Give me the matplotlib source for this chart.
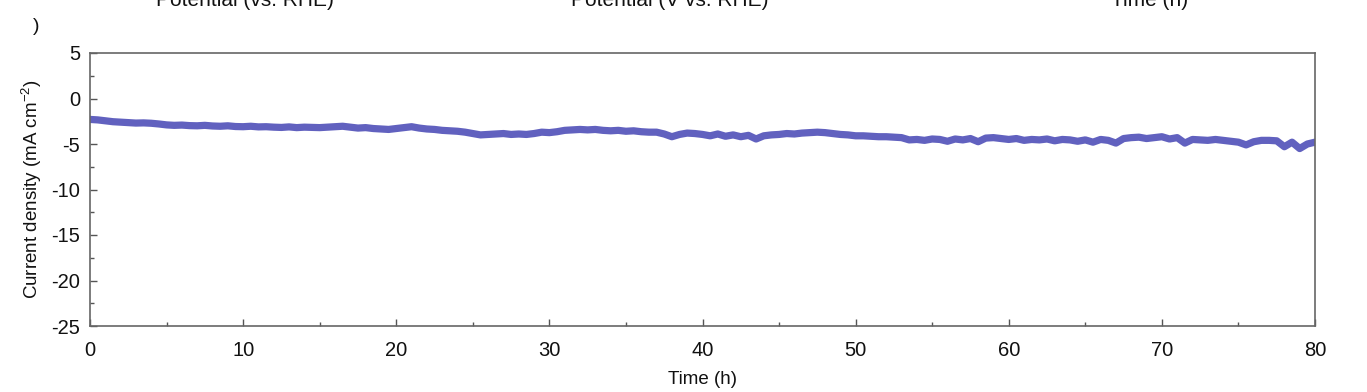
import matplotlib
matplotlib.use("Agg")
import matplotlib.pyplot as plt
from matplotlib.ticker import MultipleLocator

plt.rcParams['font.family'] = ['Liberation Sans', 'DejaVu Sans']
plt.rcParams['axes.unicode_minus'] = False
plt.rcParams['mathtext.fontset'] = 'custom'
plt.rcParams['mathtext.rm'] = 'Liberation Sans'
plt.rcParams['mathtext.default'] = 'regular'

# Chronoamperometry current density (mA cm^-2), read every 0.5 h from 0 to 80 h
current_density = [
    -2.3, -2.35, -2.45, -2.55, -2.6, -2.65, -2.7, -2.68, -2.72, -2.8,
    -2.9, -2.95, -2.92, -2.98, -3.0, -2.95, -3.02, -3.05, -3.0, -3.08,
    -3.1, -3.05, -3.12, -3.1, -3.15, -3.18, -3.12, -3.2, -3.15, -3.18,
    -3.2, -3.15, -3.1, -3.05, -3.15, -3.25, -3.2, -3.3, -3.35, -3.4, -3.3,
    -3.2, -3.1, -3.25, -3.35, -3.4, -3.5, -3.55, -3.6, -3.7, -3.85,
    -4.0, -3.95, -3.9, -3.85, -3.95, -3.9, -3.95, -3.85, -3.7, -3.75,
    -3.65, -3.5, -3.45, -3.4, -3.45, -3.4, -3.5, -3.55, -3.5, -3.6,
    -3.55, -3.65, -3.7, -3.7, -3.9, -4.2, -3.95, -3.8, -3.85, -3.95,
    -4.1, -3.9, -4.15, -4.0, -4.2, -4.05, -4.45, -4.1, -4.0, -3.95,
    -3.85, -3.9, -3.8, -3.75, -3.7, -3.75, -3.85, -3.95, -4.0, -4.1,
    -4.1, -4.15, -4.2, -4.2, -4.25, -4.3, -4.55, -4.5, -4.6, -4.45,
    -4.5, -4.7, -4.45, -4.55, -4.4, -4.75, -4.35, -4.3, -4.4, -4.5,
    -4.4, -4.6, -4.5, -4.55, -4.45, -4.65, -4.5, -4.55, -4.7, -4.55,
    -4.8, -4.5, -4.6, -4.9, -4.4, -4.3, -4.25, -4.4, -4.3, -4.2,
    -4.45, -4.3, -4.9, -4.5, -4.55, -4.6, -4.5, -4.6, -4.7, -4.8,
    -5.1, -4.75, -4.6, -4.6, -4.65, -5.3, -4.8, -5.5, -5.0, -4.8,
]
time_h = [i * 0.5 for i in range(len(current_density))]

x_ticks = [0, 10, 20, 30, 40, 50, 60, 70, 80]
y_ticks = [-25, -20, -15, -10, -5, 0, 5]

fig = plt.figure(figsize=(13.67, 3.92), dpi=100)
ax = fig.add_axes([90/1367, 66/392, 1225/1367, 273/392])

ax.plot(time_h, current_density, color='#6161BF', lw=5.2, solid_joinstyle='round',
        solid_capstyle='round')

ax.set_xlim(0, 80)
ax.set_ylim(-25, 5)
ax.set_xticks(x_ticks)
ax.set_yticks(y_ticks)
ax.xaxis.set_minor_locator(MultipleLocator(5))
ax.yaxis.set_minor_locator(MultipleLocator(2.5))
ax.tick_params(which='both', direction='in', colors='#555555', labelcolor='#111111',
               labelsize=14.5, width=1)
ax.tick_params(which='major', length=5)
ax.tick_params(which='minor', length=3)
ax.tick_params(axis='x', pad=11)
ax.tick_params(axis='y', pad=7)
for s in ax.spines.values():
    s.set_color('#666666')
    s.set_linewidth(1.2)

ax.set_xlabel('Time (h)', fontsize=13.5, color='#111111', labelpad=8)
ax.set_ylabel('Current density (mA cm$^{-2}$)', fontsize=13.5, color='#111111', labelpad=5)

# cropped labels of the panels above
fig.text(245/1367, 1 - 6/392, 'Potential (vs. RHE)', ha='center', va='baseline',
         fontsize=15, color='#111111')
fig.text(670/1367, 1 - 6/392, 'Potential (V vs. RHE)', ha='center', va='baseline',
         fontsize=15, color='#111111')
fig.text(1150/1367, 1 - 6/392, 'Time (h)', ha='center', va='baseline',
         fontsize=15, color='#111111')
fig.text(36/1367, 1 - 31/392, ')', ha='center', va='baseline', fontsize=14, color='#111111')

fig.savefig('out.png', dpi=100, facecolor='white')
